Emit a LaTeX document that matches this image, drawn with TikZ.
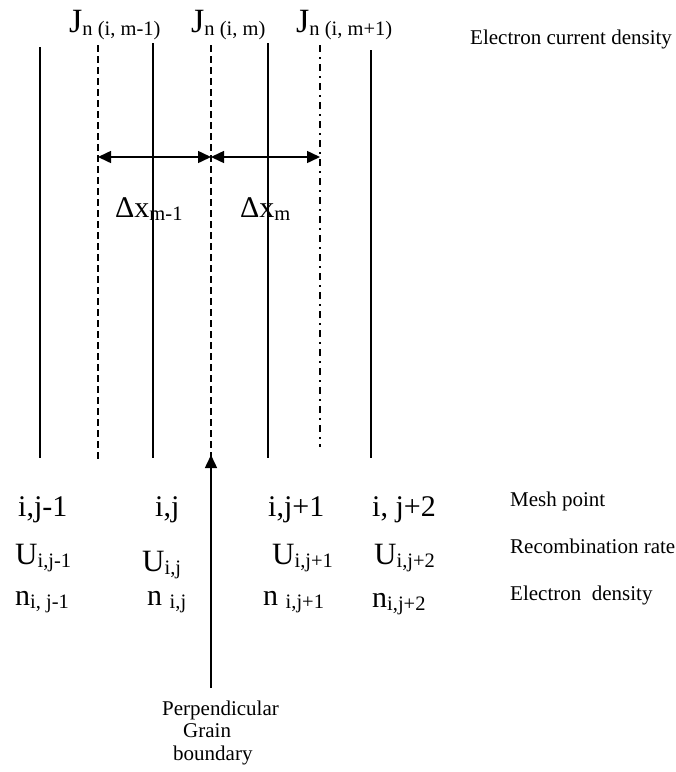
\documentclass[tikz,border=0pt]{standalone}
\usepackage{fontspec}
\setmainfont{Liberation Serif}
\usetikzlibrary{arrows.meta}
\newcommand{\fsz}[1]{\fontsize{#1}{#1}\selectfont}
\newcommand{\lsub}[1]{\raisebox{-3pt}{\fsz{20.5}#1}}
\begin{document}
\begin{tikzpicture}[x=1pt,y=-1pt,
  solidline/.style={line width=1.5pt},
  dashline/.style={line width=1.5pt, dash pattern=on 7pt off 4pt},
  dashdotline/.style={line width=1.5pt, dash pattern=on 7pt off 5pt on 2pt off 5pt},
  tri/.tip={Triangle[length=13pt,width=12pt]},
  dimarrow/.style={line width=1.5pt, tri-tri},
  uparrow/.style={line width=1.5pt, -tri},
  lbl/.style={inner sep=0pt, anchor=base west},
  big/.style={lbl, font=\fsz{30}},
  jbig/.style={lbl, font=\fsz{34}},
  ubig/.style={lbl, font=\fsz{31}},
  small/.style={lbl, font=\fsz{21}}]
\useasboundingbox (0,0) rectangle (676,772);
% vertical lines
\coordinate (L1t) at (40,47);  \coordinate (L1b) at (40,458);
\coordinate (D1t) at (98,45);  \coordinate (D1b) at (98,460);
\coordinate (L2t) at (153,43); \coordinate (L2b) at (153,458);
\coordinate (D2t) at (211,45); \coordinate (D2b) at (211,460);
\coordinate (L3t) at (268,43); \coordinate (L3b) at (268,458);
\coordinate (D3t) at (320,45); \coordinate (D3b) at (320,447);
\coordinate (L4t) at (371,50); \coordinate (L4b) at (371,458);
\draw[solidline] (L1t) -- (L1b);
\draw[dashline] (D1t) -- (D1b);
\draw[solidline] (L2t) -- (L2b);
\draw[dashline] (D2t) -- (D2b);
\draw[solidline] (L3t) -- (L3b);
\draw[dashdotline] (D3t) -- (D3b);
\draw[solidline] (L4t) -- (L4b);
% dimension arrows
\coordinate (A1) at (98,157);
\coordinate (A2) at (211,157);
\coordinate (A3) at (320,157);
\draw[dimarrow] (A1) -- (A2);
\draw[dimarrow] (A2) -- (A3);
% grain boundary arrow
\coordinate (G0) at (211,688);
\coordinate (G1) at (211,455);
\draw[uparrow] (G0) -- (G1);
% top labels
\node[jbig] (j1) at (69,32) {J\lsub{n (i, m-1)}};
\node[jbig] (j2) at (191,32) {J\lsub{n (i, m)}};
\node[jbig] (j3) at (296,32) {J\lsub{n (i, m+1)}};
\node[small] (ecd) at (470,44) {Electron current density};
% delta labels
\node[big] (dx1) at (115,217) {Δx\lsub{m-1}};
\node[big] (dx2) at (240,217) {Δx\lsub{m}};
% mesh point row
\node[big] (m1) at (18,516) {i,j-1};
\node[big] (m2) at (155,516) {i,j};
\node[big] (m3) at (268,516) {i,j+1};
\node[big] (m4) at (372,516) {i, j+2};
% recombination row
\node[ubig] (u1) at (15,564) {U\lsub{i,j-1}};
\node[ubig] (u2) at (142,571) {U\lsub{i,j}};
\node[ubig] (u3) at (272,564) {U\lsub{i,j+1}};
\node[ubig] (u4) at (374,564) {U\lsub{i,j+2}};
% electron density row
\node[big] (n1) at (15,605) {n\lsub{i, j-1}};
\node[big] (n2) at (147,605) {n \lsub{i,j}};
\node[big] (n3) at (263,605) {n \lsub{i,j+1}};
\node[big] (n4) at (372,607) {n\lsub{i,j+2}};
% legend
\node[small] (lm) at (510,506) {Mesh point};
\node[small] (lr) at (510,553) {Recombination rate};
\node[small] (le) at (510,600) {Electron~ density};
% grain boundary label
\node[small] (p1) at (162,715) {Perpendicular};
\node[small] (p2) at (183,737) {Grain};
\node[small] (p3) at (173,760) {boundary};
\end{tikzpicture}
\end{document}
